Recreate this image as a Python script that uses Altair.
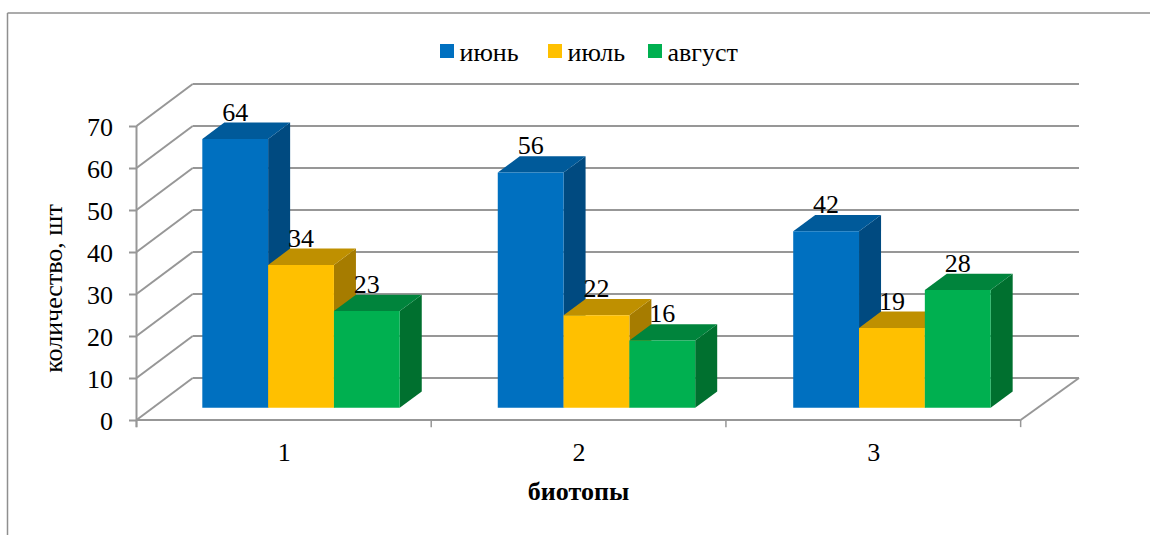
import altair as alt
import pandas as pd

# Survey counts per biotope and month
sites = [1, 2, 3]
months = ["июнь", "июль", "август"]
june = [64, 56, 42]
july = [34, 22, 19]
august = [23, 16, 28]
y_ticks = [0, 10, 20, 30, 40, 50, 60, 70]

front_colors = ["#0070C0", "#FFC000", "#00B050"]
top_colors = ["#005A9A", "#BF9000", "#00843C"]
side_colors = ["#004A80", "#A67C00", "#00702F"]

FONT = "Liberation Serif"
GRID = "#979797"
TEXT = 26

# Oblique projection, expressed in axis units
WALL_DX, WALL_DY = 0.1907, 10.0
BAR_W = 0.2233
BAR_DX, BAR_DY = 0.0747, 3.88
BAR_BASE = 2.93
GROUP_STEP = 1.0025
X_MAX = 3.198

front, sides, tops, labels = [], [], [], []
for m, (month, vals) in enumerate(zip(months, [june, july, august])):
    for s, v in enumerate(vals):
        x0 = s * GROUP_STEP + BAR_W * (1 + m)
        x1 = x0 + BAR_W
        key = f"{s}-{m}"
        top = BAR_BASE + v
        front.append(dict(month=month, x0=x0, x1=x1, y0=BAR_BASE, y1=top))
        sides += [
            dict(key=key, c=side_colors[m], x=x1, y=top, y2=BAR_BASE),
            dict(key=key, c=side_colors[m], x=x1 + BAR_DX, y=top + BAR_DY, y2=BAR_BASE + BAR_DY),
        ]
        tops += [
            dict(key=key, c=top_colors[m], x=x0, x2=x1, y=top),
            dict(key=key, c=top_colors[m], x=x0 + BAR_DX, x2=x1 + BAR_DX, y=top + BAR_DY),
        ]
        labels.append(dict(x=(x0 + x1) / 2, y=top + BAR_DY, v=v))

x_scale = alt.Scale(domain=[0, X_MAX], nice=False, zero=False)
y_scale = alt.Scale(domain=[0, 80], nice=False, zero=False)
x_axis = alt.Axis(
    values=[s - 0.5 for s in sites], labelExpr="datum.value + 0.5",
    ticks=False, domain=False, grid=False, title="биотопы",
    labelFont=FONT, labelFontSize=TEXT, labelColor="#000", labelPadding=19,
    titleFont=FONT, titleFontSize=TEXT, titleColor="#000", titleFontWeight="bold",
    titleX=441.5, titleY=58,
)
y_axis = alt.Axis(
    values=y_ticks, domain=False, grid=False, tickSize=8, tickColor=GRID, tickWidth=2,
    title="количество, шт", labelFont=FONT, labelFontSize=TEXT, labelColor="#000",
    labelPadding=16, labelOffset=1.5, titleFont=FONT, titleFontSize=TEXT, titleColor="#000",
    titleFontWeight="normal", titleX=-70, titleY=204,
)
X = lambda f: alt.X(f, type="quantitative", scale=x_scale, axis=x_axis)
Y = lambda f: alt.Y(f, type="quantitative", scale=y_scale, axis=y_axis)

# Back wall gridlines
back = pd.DataFrame({"x": WALL_DX, "x2": X_MAX, "y": [t + WALL_DY for t in y_ticks]})
back_layer = alt.Chart(back).mark_rule(color=GRID, strokeWidth=2).encode(
    x=X("x"), x2="x2:Q", y=Y("y")
)

# Side wall diagonals and floor edge
diag = pd.DataFrame(
    [dict(x=0, x2=WALL_DX, y=t, y2=t + WALL_DY) for t in y_ticks]
    + [dict(x=3, x2=X_MAX, y=0, y2=WALL_DY)]
)
diag_layer = alt.Chart(diag).mark_rule(color=GRID, strokeWidth=2).encode(
    x=X("x"), x2="x2:Q", y=Y("y"), y2="y2:Q"
)

# Front axis lines and their tick marks
axis_v = alt.Chart(pd.DataFrame({"x": [0], "y": [-1.7], "y2": [70]})).mark_rule(
    color=GRID, strokeWidth=2
).encode(x=X("x"), y=Y("y"), y2="y2:Q")
axis_h = alt.Chart(pd.DataFrame({"x": [0], "x2": [3], "y": [0]})).mark_rule(
    color=GRID, strokeWidth=2
).encode(x=X("x"), x2="x2:Q", y=Y("y"))
x_ticks = alt.Chart(pd.DataFrame({"x": [0, 1, 2, 3], "y": 0, "y2": -1.7})).mark_rule(
    color=GRID, strokeWidth=1.5
).encode(x=X("x"), y=Y("y"), y2="y2:Q")

# Outer chart frame, running off the right and bottom edges
frame_left = alt.Chart(pd.DataFrame({"a": [0]})).mark_rule(color="#8f8f8f", strokeWidth=1.5).encode(
    x=alt.value(-129), y=alt.value(-71), y2=alt.value(451)
)
frame_top = alt.Chart(pd.DataFrame({"a": [0]})).mark_rule(color="#8f8f8f", strokeWidth=1.5).encode(
    x=alt.value(-129), x2=alt.value(1014), y=alt.value(-71)
)

# Bars: side faces, then top faces, then front faces
side_layer = alt.Chart(pd.DataFrame(sides)).mark_area(orient="vertical", interpolate="linear").encode(
    x=X("x"), y=Y("y"), y2="y2:Q", detail="key:N", color=alt.Color("c:N", scale=None)
)
top_layer = alt.Chart(pd.DataFrame(tops)).mark_area(orient="horizontal", interpolate="linear").encode(
    x=X("x"), x2="x2:Q", y=Y("y"), detail="key:N", color=alt.Color("c:N", scale=None)
)
month_scale = alt.Scale(domain=months, range=front_colors)
front_layer = alt.Chart(pd.DataFrame(front)).mark_rect().encode(
    x=X("x0"), x2="x1:Q", y=Y("y0"), y2="y1:Q",
    color=alt.Color("month:N", scale=month_scale, legend=None),
)

value_labels = alt.Chart(pd.DataFrame(labels)).mark_text(
    font=FONT, fontSize=TEXT, color="#000", baseline="alphabetic", align="center", dy=-2
).encode(x=X("x"), y=Y("y"), text="v:Q")

# Legend row above the plot, with its uneven spacing kept per entry
legend_layers = []
for month, color, key_left in zip(months, front_colors, [303.5, 411.5, 511.5]):
    one = alt.Chart(pd.DataFrame({"month": [month]}))
    legend_layers.append(
        one.mark_square(size=196, color=color, opacity=1).encode(
            x=alt.value(key_left + 7), y=alt.value(-33)
        )
    )
    legend_layers.append(
        one.mark_text(font=FONT, fontSize=TEXT, color="#000", align="left", baseline="alphabetic").encode(
            x=alt.value(key_left + 19.5), y=alt.value(-23), text="month:N"
        )
    )

chart = alt.layer(
    frame_left, frame_top, back_layer, diag_layer, axis_v, axis_h, x_ticks,
    side_layer, top_layer, front_layer, value_labels, *legend_layers,
).properties(
    width=942.5, height=336,
    padding={"left": 136.5, "top": 84, "right": 71, "bottom": 115},
    autosize=alt.AutoSizeParams(type="none"),
    background="#ffffff",
).configure_view(stroke=None)

chart.save("out.html", embed_options={"renderer": "svg", "actions": False})
